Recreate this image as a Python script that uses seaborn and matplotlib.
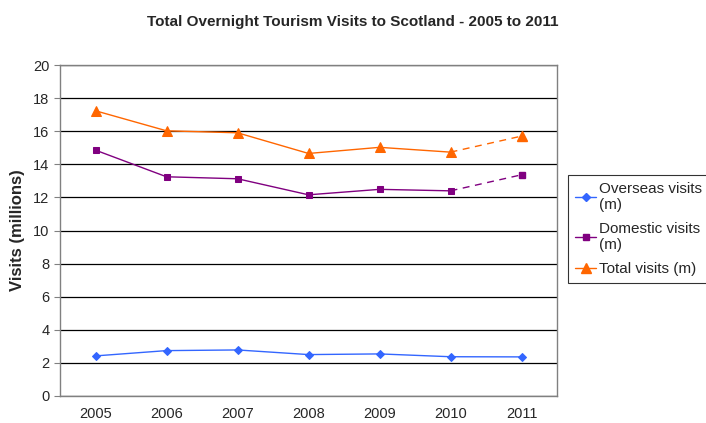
import matplotlib
matplotlib.use("Agg")
import matplotlib.pyplot as plt
import seaborn as sns
import numpy as np
import pandas as pd

years = ["2005", "2006", "2007", "2008", "2009", "2010", "2011"]
overseas = [2.42, 2.74, 2.78, 2.50, 2.54, 2.37, 2.36]
domestic = [14.86, 13.25, 13.13, 12.16, 12.49, 12.40, 13.37]
total = [17.24, 16.03, 15.91, 14.66, 15.03, 14.74, 15.71]

series_names = ["Overseas visits\n(m)", "Domestic visits\n(m)", "Total visits (m)"]
series_values = [overseas, domestic, total]
colors = ["#3366FF", "#800080", "#FF6600"]
markers = ["D", "s", "^"]
marker_sizes = [4.0, 4.5, 6.5]
dashed_last = [False, True, True]

sns.set_style("white")
plt.rcParams["font.family"] = ["Liberation Sans", "DejaVu Sans"]

fig = plt.figure(figsize=(7.06, 4.23), dpi=100)
ax = fig.add_axes([0.085, 0.064, 0.704, 0.782])

x = np.arange(len(years))
handles = []
for name, vals, c, m, ms, dl in zip(series_names, series_values, colors, markers,
                                    marker_sizes, dashed_last):
    n = len(vals) - 1 if dl else len(vals)
    df = pd.DataFrame({"x": x[:n], "y": vals[:n]})
    sns.lineplot(data=df, x="x", y="y", ax=ax, color=c, marker=m, markersize=ms,
                 markeredgecolor=c, linewidth=1.0, legend=False)
    if dl:
        # latest year drawn dashed
        ax.plot(x[-2:], vals[-2:], color=c, linestyle=(0, (5, 4)), linewidth=1.0)
        ax.plot(x[-1:], vals[-1:], color=c, marker=m, markersize=ms, linestyle="none")
    h, = ax.plot([], [], color=c, marker=m, markersize=ms, linewidth=1.0, label=name)
    handles.append(h)

ax.set_xlim(-0.5, len(years) - 0.5)
ax.set_ylim(0, 20)
ax.set_yticks(np.arange(0, 21, 2))
ax.set_xticks(x)
ax.set_xticklabels(years)
ax.set_xticks(np.arange(-0.5, len(years), 1), minor=True)
ax.tick_params(axis="x", which="major", length=0, labelsize=10.5, pad=8)
ax.tick_params(axis="x", which="minor", length=4, color="#808080", direction="out")
ax.tick_params(axis="y", length=4, color="#808080", direction="out", labelsize=10.5, left=True)
ax.grid(axis="y", color="black", linewidth=0.9)
ax.set_axisbelow(True)
for s in ax.spines.values():
    s.set_color("#808080")
    s.set_linewidth(1.0)

ax.set_xlabel("")
ax.set_ylabel("Visits (millions)", fontsize=12, fontweight="bold", labelpad=6)
fig.text(0.5, 0.948, "Total Overnight Tourism Visits to Scotland - 2005 to 2011",
         ha="center", va="center", fontsize=11, fontweight="bold")

leg = fig.legend(handles=handles, loc="upper left", bbox_to_anchor=(0.805, 0.586),
                 fontsize=11, frameon=True, fancybox=False, handlelength=1.35,
                 handletextpad=0.2, borderpad=0.45, labelspacing=0.65, borderaxespad=0)
leg.get_frame().set_edgecolor("black")
leg.get_frame().set_linewidth(0.8)

fig.savefig("out.png", dpi=100)
